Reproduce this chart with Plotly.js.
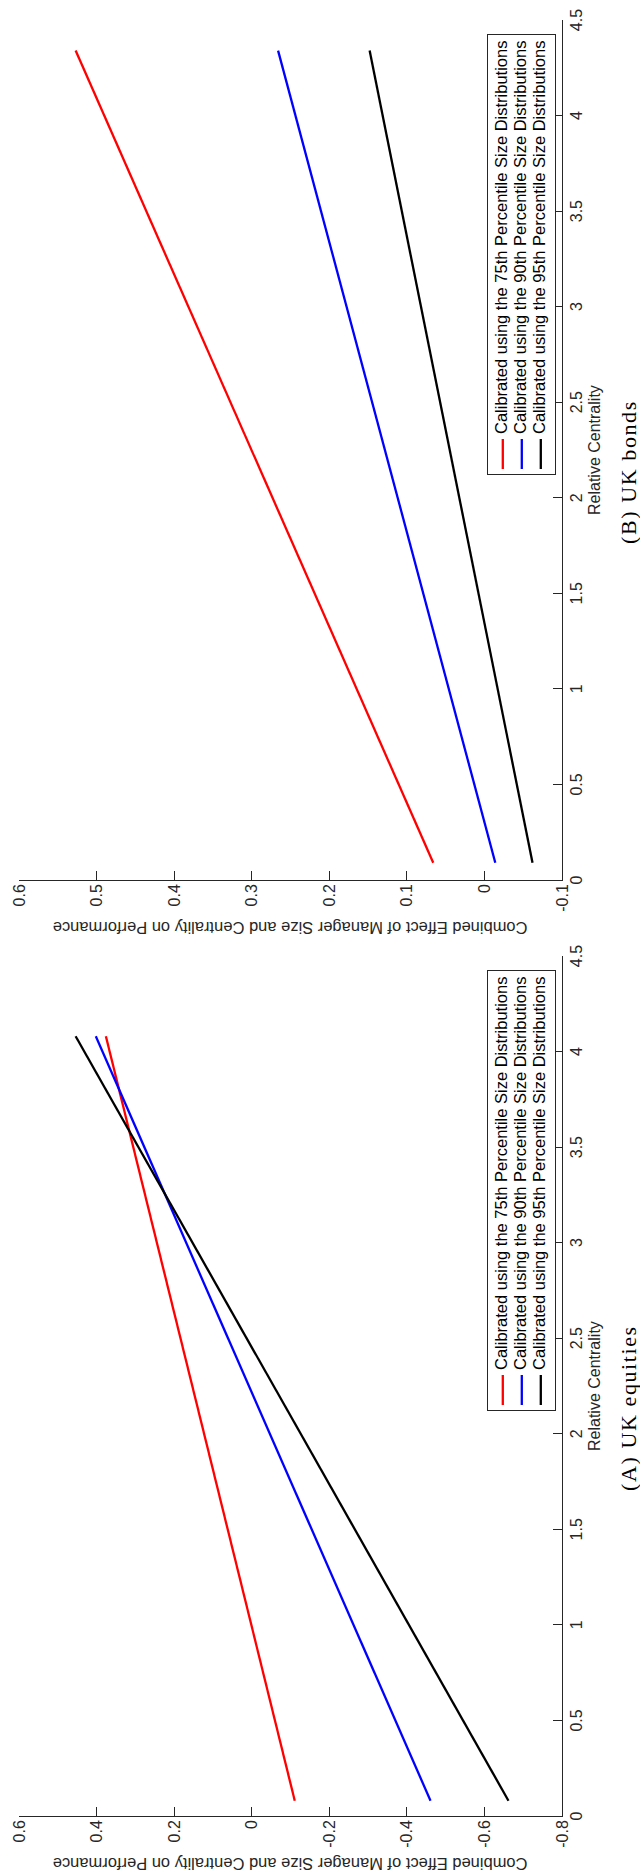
<!DOCTYPE html>
<html>
<head>
<meta charset="utf-8">
<script src="https://cdn.plot.ly/plotly-3.0.1.min.js"></script>
<style>
html, body { margin: 0; padding: 0; background: #ffffff; width: 640px; height: 1872px; overflow: hidden; }
.panel { position: absolute; left: 0; width: 936px; height: 640px; transform-origin: 0 0; transform: translate(0px, 936px) rotate(-90deg); }
#panelB { top: 0px; }
#panelA { top: 936px; }
</style>
</head>
<body>
<div id="panelB" class="panel"></div>
<div id="panelA" class="panel"></div>
<script>
// ---------- shared ----------
const xTickVals = [0, 0.5, 1, 1.5, 2, 2.5, 3, 3.5, 4, 4.5];
const xTickText = ['0', '0.5', '1', '1.5', '2', '2.5', '3', '3.5', '4', '4.5'];
const seriesNames = [
  'Calibrated using the 75th Percentile Size Distributions',
  'Calibrated using the 90th Percentile Size Distributions',
  'Calibrated using the 95th Percentile Size Distributions'
];
const seriesColors = ['#ff0000', '#0000ff', '#000000'];
const xTitle = 'Relative Centrality';
const yTitle = 'Combined Effect of Manager Size and Centrality on Performance';

// ---------- Panel A: UK equities ----------
const equitiesCaption = '(A) UK equities';
const equitiesX = [0.08, 4.08];
const equities75 = [-0.111, 0.376];
const equities90 = [-0.461, 0.402];
const equities95 = [-0.662, 0.454];
const equitiesYRange = [-0.8, 0.6];
const equitiesYTickVals = [-0.8, -0.6, -0.4, -0.2, 0, 0.2, 0.4, 0.6];
const equitiesYTickText = ['-0.8', '-0.6', '-0.4', '-0.2', '0', '0.2', '0.4', '0.6'];

// ---------- Panel B: UK bonds ----------
const bondsCaption = '(B) UK bonds';
const bondsX = [0.09, 4.34];
const bonds75 = [0.066, 0.527];
const bonds90 = [-0.014, 0.266];
const bonds95 = [-0.062, 0.148];
const bondsYRange = [-0.1, 0.6];
const bondsYTickVals = [-0.1, 0, 0.1, 0.2, 0.3, 0.4, 0.5, 0.6];
const bondsYTickText = ['-0.1', '0', '0.1', '0.2', '0.3', '0.4', '0.5', '0.6'];

const axisColor = '#262626';
const sansFont = 'Liberation Sans, Arial, Helvetica, sans-serif';
const serifFont = 'Liberation Serif, Times New Roman, serif';

function makeTraces(x, ys) {
  return ys.map((y, i) => ({
    type: 'scatter',
    mode: 'lines',
    x: x,
    y: y,
    name: '<span style="font-size:16.5px">' + seriesNames[i] + '</span>',
    line: { color: seriesColors[i], width: 2.3 },
    hoverinfo: 'skip'
  }));
}

function makeLayout(yRange, yTickVals, yTickText, caption) {
  const plotH = 543, plotW = 860;
  return {
    width: 936,
    height: 640,
    margin: { l: 56, r: 20, t: 19, b: 78, pad: 0 },
    paper_bgcolor: '#ffffff',
    plot_bgcolor: '#ffffff',
    font: { family: sansFont, size: 16, color: axisColor },
    showlegend: true,
    legend: {
      x: (461 - 56) / plotW,
      xanchor: 'left',
      y: 1 - (521.8 - 19) / plotH,
      yanchor: 'middle',
      bgcolor: '#ffffff',
      bordercolor: axisColor,
      borderwidth: 1,
      font: { family: sansFont, size: 11.5, color: '#000000' },
      tracegroupgap: 0
    },
    xaxis: {
      range: [0, 4.5],
      tickmode: 'array',
      tickvals: xTickVals,
      ticktext: xTickText,
      ticks: 'inside',
      ticklen: 9,
      tickwidth: 1,
      tickcolor: axisColor,
      showline: true,
      linecolor: axisColor,
      linewidth: 1,
      mirror: false,
      showgrid: false,
      zeroline: false,
      tickfont: { size: 16, color: axisColor }
    },
    yaxis: {
      range: yRange,
      tickmode: 'array',
      tickvals: yTickVals,
      ticktext: yTickText,
      ticks: 'inside',
      ticklen: 9,
      tickwidth: 1,
      tickcolor: axisColor,
      showline: true,
      linecolor: axisColor,
      linewidth: 1,
      mirror: false,
      showgrid: false,
      zeroline: false,
      tickfont: { size: 16, color: axisColor }
    },
    annotations: [
      {
        text: xTitle, xref: 'paper', yref: 'paper',
        x: 0.5, y: -(594 - 562) / plotH, xanchor: 'center', yanchor: 'middle',
        showarrow: false, font: { family: sansFont, size: 16, color: axisColor }
      },
      {
        text: yTitle, xref: 'paper', yref: 'paper', textangle: -90,
        x: -(56 - 8) / plotW, y: 0.5, xanchor: 'center', yanchor: 'middle',
        showarrow: false, font: { family: sansFont, size: 16.5, color: axisColor }
      },
      {
        text: '<span style="letter-spacing:1.6px">' + caption + '</span>',
        xref: 'paper', yref: 'paper',
        x: (463.5 - 56) / plotW, y: -(628 - 562) / plotH, xanchor: 'center', yanchor: 'middle',
        showarrow: false, font: { family: serifFont, size: 22, color: '#000000' }
      }
    ]
  };
}

const config = { staticPlot: true, displayModeBar: false };

Plotly.newPlot('panelB',
  makeTraces(bondsX, [bonds75, bonds90, bonds95]),
  makeLayout(bondsYRange, bondsYTickVals, bondsYTickText, bondsCaption),
  config);

Plotly.newPlot('panelA',
  makeTraces(equitiesX, [equities75, equities90, equities95]),
  makeLayout(equitiesYRange, equitiesYTickVals, equitiesYTickText, equitiesCaption),
  config);
</script>
</body>
</html>
